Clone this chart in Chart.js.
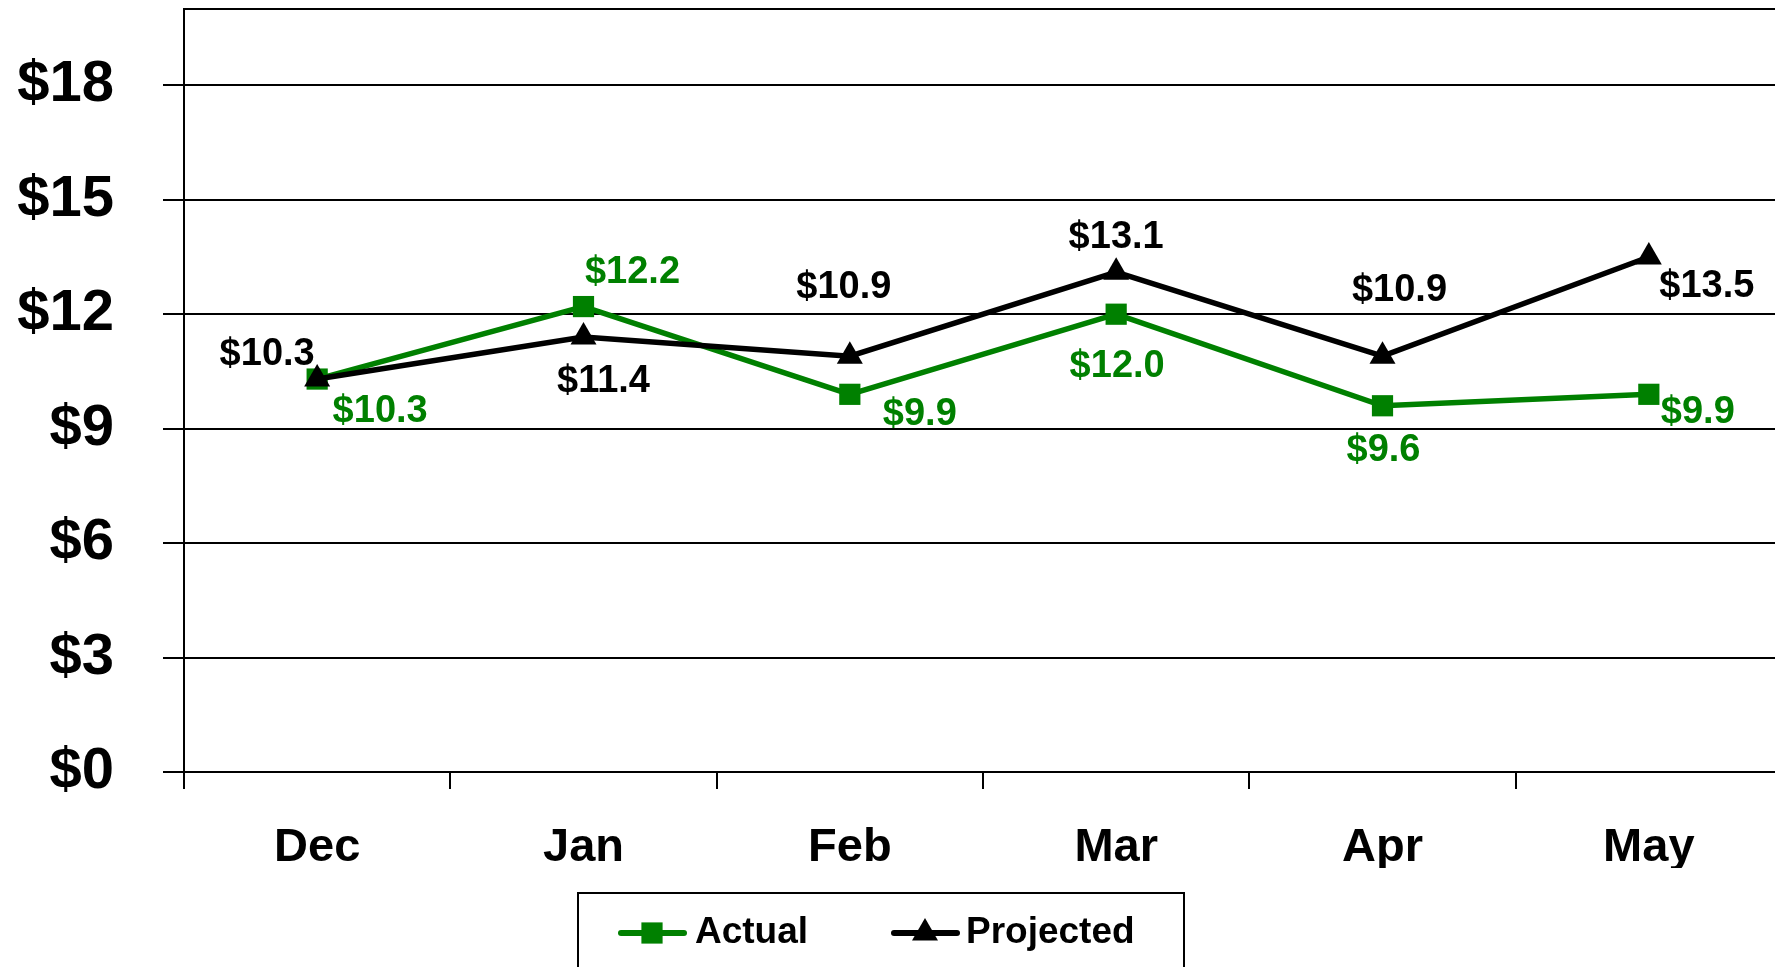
<!DOCTYPE html>
<html>
<head>
<meta charset="utf-8">
<style>
  html, body { margin: 0; padding: 0; background: #fff; overflow: hidden; }
  canvas { display: block; }
</style>
<script src="https://cdn.jsdelivr.net/npm/chart.js@4/dist/chart.umd.min.js"></script>
</head>
<body>
<canvas id="myChart" width="1790" height="967"></canvas>
<script>
// data
const months = ['Dec', 'Jan', 'Feb', 'Mar', 'Apr', 'May'];
const actual = [10.3, 12.2, 9.9, 12.0, 9.6, 9.9];
const projected = [10.3, 11.4, 10.9, 13.1, 10.9, 13.5];
const yTicks = [0, 3, 6, 9, 12, 15, 18];

// where each value label sits relative to its point (px)
const actualLabelPos = [[63, 32], [49, -34], [70, 20], [1, 52], [1, 45], [49, 18]];
const projectedLabelPos = [[-50, -25], [20, 44], [-6, -69], [0, -35], [17, -66], [58, 30]];

const FONT = "'Liberation Sans', Arial, sans-serif";
const GREEN = '#008000';
const BLACK = '#000000';

const valueLabels = {
  id: 'valueLabels',
  afterDatasetsDraw(chart) {
    const ctx = chart.ctx;
    ctx.save();
    ctx.font = 'bold 38px ' + FONT;
    ctx.textAlign = 'center';
    ctx.textBaseline = 'middle';
    chart.data.datasets.forEach((ds, i) => {
      const meta = chart.getDatasetMeta(i);
      meta.data.forEach((pt, j) => {
        const off = ds.labelPos[j];
        ctx.fillStyle = ds.borderColor;
        ctx.fillText('$' + ds.data[j].toFixed(1), pt.x + off[0], pt.y + off[1]);
      });
    });
    ctx.restore();
  }
};

// top frame line + boxed legend under the axis
const frameAndLegend = {
  id: 'frameAndLegend',
  afterDraw(chart) {
    const ctx = chart.ctx;
    const area = chart.chartArea;
    ctx.save();
    ctx.strokeStyle = BLACK;
    ctx.lineWidth = 2;
    ctx.beginPath();
    ctx.moveTo(area.left, area.top);
    ctx.lineTo(chart.width, area.top);
    ctx.stroke();

    // legend box
    ctx.strokeRect(578, 893, 606, 100);

    const items = [
      { ds: chart.data.datasets[0], x: 621, textX: 695 },
      { ds: chart.data.datasets[1], x: 894, textX: 966 }
    ];
    const cy = 933;
    items.forEach(it => {
      ctx.strokeStyle = it.ds.borderColor;
      ctx.fillStyle = it.ds.borderColor;
      ctx.lineWidth = 6;
      ctx.lineCap = 'round';
      ctx.beginPath();
      ctx.moveTo(it.x, cy);
      ctx.lineTo(it.x + 63, cy);
      ctx.stroke();
      Chart.helpers.drawPoint(ctx, {
        pointStyle: it.ds.pointStyle,
        radius: it.ds.pointRadius,
        borderWidth: 0
      }, it.x + 31, cy);
      ctx.fillStyle = BLACK;
      ctx.font = 'bold 37px ' + FONT;
      ctx.textAlign = 'left';
      ctx.textBaseline = 'middle';
      ctx.fillText(it.ds.label, it.textX, cy);
    });
    ctx.restore();
  }
};

const chartContainer = document.getElementById('myChart');

const chartConfiguration = {
  type: 'line',
  data: {
    labels: months,
    datasets: [
      {
        label: 'Actual',
        data: actual,
        labelPos: actualLabelPos,
        borderColor: GREEN,
        backgroundColor: GREEN,
        borderWidth: 5.5,
        pointStyle: 'rect',
        pointRadius: 15,
        pointHoverRadius: 15,
        pointBorderWidth: 0,
        tension: 0,
        order: 2
      },
      {
        label: 'Projected',
        data: projected,
        labelPos: projectedLabelPos,
        borderColor: BLACK,
        backgroundColor: BLACK,
        borderWidth: 5.5,
        pointStyle: 'triangle',
        pointRadius: 15,
        pointHoverRadius: 15,
        pointBorderWidth: 0,
        tension: 0,
        order: 1
      }
    ]
  },
  options: {
    responsive: false,
    animation: false,
    events: [],
    layout: { autoPadding: false, padding: { left: 0, right: 8, top: 9, bottom: 99 } },
    plugins: {
      legend: { display: false },
      tooltip: { enabled: false }
    },
    scales: {
      x: {
        type: 'category',
        offset: true,
        afterFit(scale) {
          scale.height = 96;
          scale.paddingLeft = 0;
          scale.paddingRight = 0;
        },
        grid: {
          offset: true,
          drawOnChartArea: false,
          drawTicks: true,
          tickLength: 17,
          color: BLACK,
          lineWidth: 2
        },
        border: { display: true, color: BLACK, width: 2 },
        ticks: {
          color: BLACK,
          padding: 31,
          maxRotation: 0,
          font: { family: FONT, size: 47, weight: 'bold' }
        }
      },
      y: {
        min: 0,
        max: 20,
        afterBuildTicks(scale) {
          scale.ticks = yTicks.map(v => ({ value: v }));
        },
        afterFit(scale) {
          scale.width = 184;
          scale.paddingTop = 0;
          scale.paddingBottom = 0;
        },
        grid: {
          color: BLACK,
          lineWidth: 2,
          tickLength: 21
        },
        border: { display: true, color: BLACK, width: 2 },
        ticks: {
          color: BLACK,
          padding: 49,
          font: { family: FONT, size: 58, weight: 'bold' },
          callback: (v) => '$' + v
        }
      }
    }
  },
  plugins: [valueLabels, frameAndLegend]
};

const myChart = new Chart(chartContainer, chartConfiguration);
</script>
</body>
</html>
